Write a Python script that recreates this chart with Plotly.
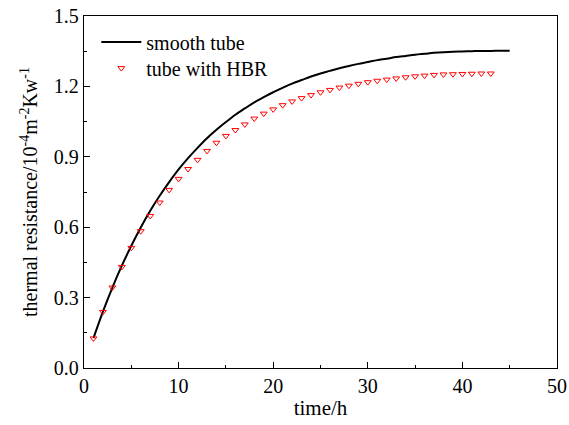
import plotly.graph_objects as go

# smooth tube curve (read at integer hours)
smooth_t = list(range(1, 46))
smooth_r = [0.127, 0.240, 0.343, 0.436, 0.521, 0.599, 0.670, 0.734, 0.792, 0.846,
            0.894, 0.938, 0.979, 1.015, 1.048, 1.079, 1.106, 1.132, 1.154, 1.175,
            1.194, 1.212, 1.227, 1.242, 1.255, 1.266, 1.277, 1.287, 1.296, 1.304,
            1.312, 1.318, 1.325, 1.330, 1.335, 1.339, 1.343, 1.346, 1.348, 1.349,
            1.350, 1.351, 1.351, 1.352, 1.352]

# tube with HBR markers
hbr_t = list(range(1, 44))
hbr_r = [0.126, 0.239, 0.343, 0.431, 0.512, 0.583, 0.648, 0.705, 0.759, 0.806,
         0.848, 0.887, 0.925, 0.960, 0.989, 1.014, 1.038, 1.063, 1.084, 1.102,
         1.120, 1.136, 1.150, 1.163, 1.175, 1.185, 1.195, 1.203, 1.211, 1.218,
         1.224, 1.229, 1.234, 1.239, 1.243, 1.246, 1.249, 1.251, 1.252, 1.253,
         1.254, 1.255, 1.255]

x_ticks = [0, 10, 20, 30, 40, 50]
y_ticks = [0.0, 0.3, 0.6, 0.9, 1.2, 1.5]

FONT = "Liberation Serif, Times New Roman, serif"

fig = go.Figure()
fig.add_trace(go.Scatter(x=smooth_t, y=smooth_r, mode="lines", name="smooth tube",
                         line=dict(color="black", width=2, shape="spline"),
                         legend="legend"))
fig.add_trace(go.Scatter(x=hbr_t, y=hbr_r, mode="markers", name="tube with HBR",
                         marker=dict(symbol="triangle-down-open", size=6,
                                     color="red", line=dict(color="red", width=1)),
                         legend="legend2"))

axis_common = dict(showline=True, linecolor="black", linewidth=1.3, mirror=True,
                   ticks="inside", ticklen=6, tickwidth=1, tickcolor="black",
                   showgrid=False, zeroline=False, automargin=False,
                   ticklabeloverflow="allow",
                   tickfont=dict(family=FONT, size=20, color="black"))

fig.update_xaxes(range=[0, 50], tickvals=x_ticks, ticktext=[str(v) for v in x_ticks],
                 minor=dict(ticks="inside", ticklen=3, dtick=5, tickcolor="black", showgrid=False),
                 title=dict(text="time/h", font=dict(family=FONT, size=21, color="black"), standoff=4),
                 **axis_common)
fig.update_yaxes(range=[0, 1.5], tickvals=y_ticks, ticktext=[f"{v:.1f}" for v in y_ticks],
                 minor=dict(ticks="inside", ticklen=3, dtick=0.15, tickcolor="black", showgrid=False),
                 title=dict(text="thermal resistance/10<sup>-4</sup>m<sup>-2</sup>Kw<sup>-1</sup>",
                            font=dict(family=FONT, size=20, color="black"), standoff=10),
                 **axis_common)

leg_common = dict(xanchor="left", yanchor="middle", bgcolor="rgba(0,0,0,0)", borderwidth=0,
                  font=dict(family=FONT, size=20, color="black"), itemwidth=40)

fig.update_layout(
    width=569, height=425,
    margin=dict(l=84, r=12, t=16, b=57),
    paper_bgcolor="white", plot_bgcolor="white",
    font=dict(family=FONT, size=20, color="black"),
    showlegend=True,
    legend=dict(x=0.026, y=0.926, **leg_common),
    legend2=dict(x=0.026, y=0.852, **leg_common),
)

# remove the page's default body margin so the 569x425 figure fills the window exactly
fig.write_html("out.html",
               config={"displayModeBar": False},
               post_script="document.body.style.margin='0';document.body.style.overflow='hidden';")
